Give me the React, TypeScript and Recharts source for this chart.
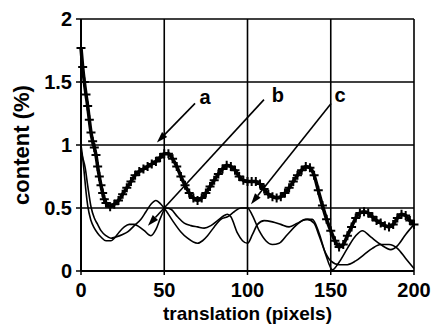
import {
  CartesianGrid,
  Label,
  Line,
  LineChart,
  ReferenceDot,
  ReferenceLine,
  XAxis,
  YAxis,
} from "recharts";

// curve a (plus markers)
const aX = [
  0, 1, 2, 3, 4, 5, 6, 7, 8, 9, 10, 11, 12, 13, 14, 15, 17.5, 20, 22.5, 25,
  27.5, 30, 32.5, 35, 37.5, 40, 42.5, 45, 47.5, 50, 52.5, 55, 57.5, 60, 62.5,
  65, 67.5, 70, 72.5, 75, 77.5, 80, 82.5, 85, 87.5, 90, 92.5, 95, 97.5, 100,
  102.5, 105, 107.5, 110, 112.5, 115, 117.5, 120, 122.5, 125, 127.5, 130,
  132.5, 135, 137.5, 140, 142.5, 145, 147.5, 150, 152.5, 155, 157.5, 160,
  162.5, 165, 167.5, 170, 172.5, 175, 177.5, 180, 182.5, 185, 187.5, 190,
  192.5, 195, 197.5, 200,
];
const aY = [
  1.77, 1.62, 1.5, 1.4, 1.31, 1.2, 1.1, 1.03, 0.98, 0.92, 0.83, 0.75, 0.68,
  0.62, 0.57, 0.54, 0.51, 0.53, 0.56, 0.61, 0.66, 0.71, 0.76, 0.79, 0.81, 0.83,
  0.85, 0.87, 0.9, 0.93, 0.93, 0.89, 0.83, 0.75, 0.68, 0.62, 0.58, 0.56, 0.58,
  0.62, 0.67, 0.72, 0.77, 0.81, 0.84, 0.83, 0.8, 0.75, 0.72, 0.71, 0.71, 0.71,
  0.69, 0.65, 0.61, 0.59, 0.58, 0.59, 0.62, 0.66, 0.71, 0.76, 0.8, 0.83, 0.82,
  0.76, 0.64, 0.52, 0.41, 0.32, 0.24, 0.19, 0.21, 0.28, 0.35, 0.42, 0.46,
  0.47, 0.46, 0.43, 0.4, 0.38, 0.36, 0.35, 0.37, 0.42, 0.45, 0.44, 0.4, 0.37,
];

// curve b
const bX = [
  0, 1, 2, 3, 4, 6, 8, 10, 12, 15, 18, 20, 23, 26, 29, 32, 35, 38, 42, 45, 48,
  51, 54, 58, 62, 66, 70, 74, 78, 82, 86, 88, 90, 94, 97, 100, 103, 106, 110,
  115, 120, 125, 130, 135, 139, 143, 147, 151, 155, 160, 165, 169, 174, 180,
  186, 190, 195, 200,
];
const bY = [
  1.0, 0.9, 0.77, 0.63, 0.52, 0.4, 0.34, 0.3, 0.27, 0.24, 0.24, 0.26, 0.31,
  0.35, 0.37, 0.37, 0.35, 0.32, 0.28, 0.33, 0.43, 0.5, 0.49, 0.43, 0.38, 0.36,
  0.35, 0.34, 0.36, 0.4, 0.44, 0.45, 0.43, 0.3, 0.24, 0.22, 0.29, 0.37, 0.4,
  0.39, 0.37, 0.35, 0.38, 0.41, 0.41, 0.3, 0.13, 0.01, 0.07, 0.18, 0.28, 0.32,
  0.27, 0.21, 0.17, 0.2, 0.29, 0.37,
];

// curve c
const cX = [
  0, 1, 2.5, 4, 6, 8, 10, 12, 15, 18, 21, 25, 28, 32, 36, 39, 42, 45, 48, 51,
  55, 60, 64, 70, 73, 76, 80, 84, 88, 92, 96, 100, 103, 107, 111, 115, 119,
  124, 129, 133, 136, 140, 143, 147, 150, 155, 160, 165, 170, 175, 180, 185,
  190, 195, 200,
];
const cY = [
  0.95, 0.9, 0.82, 0.68, 0.51, 0.42, 0.37, 0.32, 0.28, 0.26, 0.27, 0.29, 0.31,
  0.36, 0.41, 0.47, 0.53, 0.56, 0.53, 0.48, 0.4, 0.31, 0.26, 0.22, 0.24, 0.28,
  0.35, 0.41, 0.43, 0.47, 0.5, 0.5, 0.44, 0.32, 0.24, 0.21, 0.22, 0.29, 0.36,
  0.4, 0.41, 0.38, 0.28, 0.14, 0.08, 0.05, 0.05, 0.08, 0.13, 0.18, 0.21, 0.21,
  0.18, 0.1, 0.02,
];

const xTicks = [0, 50, 100, 150, 200];
const yTicks = [0, 0.5, 1, 1.5, 2];

// arrow annotations (data coordinates)
const arrowNames = ["a", "b", "c"];
const arrowFrom = [
  [68.5, 1.33],
  [109.9, 1.36],
  [150.2, 1.33],
];
const arrowTo = [
  [45.6, 1.02],
  [40.2, 0.36],
  [102.1, 0.53],
];
const arrowLabelAt = [
  [74.5, 1.38],
  [118.3, 1.4],
  [155.6, 1.4],
];

const FONT = "'Liberation Sans', Arial, sans-serif";

const toPoints = (xs: number[], ys: number[]) =>
  xs.map((x, i) => ({ x, y: ys[i] }));

function PlusDot(props: any) {
  const { cx, cy, index } = props;
  if (cx == null || cy == null) return <g key={`n${index}`} />;
  return (
    <path
      key={`p${index}`}
      d={`M${cx - 4.5},${cy}H${cx + 4.5}M${cx},${cy - 4.5}V${cy + 4.5}`}
      stroke="#000"
      strokeWidth={2}
      fill="none"
    />
  );
}

function ArrowShape(props: any) {
  const { x1, y1, x2, y2 } = props;
  const ang = Math.atan2(y2 - y1, x2 - x1);
  const len = 11;
  const half = 3.6;
  const bx = x2 - len * Math.cos(ang);
  const by = y2 - len * Math.sin(ang);
  const px = -Math.sin(ang) * half;
  const py = Math.cos(ang) * half;
  return (
    <g>
      <line x1={x1} y1={y1} x2={bx} y2={by} stroke="#000" strokeWidth={1.6} />
      <polygon
        points={`${x2},${y2} ${bx + px},${by + py} ${bx - px},${by - py}`}
        fill="#000"
      />
    </g>
  );
}

export default function App() {
  const tickStyle = {
    fill: "#000",
    fontSize: 20,
    fontWeight: 700,
    fontFamily: FONT,
  };

  return (
    <div style={{ position: "absolute", left: 0, top: 0, background: "#fff" }}>
      <LineChart
        width={432}
        height={328}
        margin={{ top: 19, right: 18, bottom: 0, left: 0 }}
      >
        <CartesianGrid stroke="#000" strokeWidth={1.6} />
        <XAxis
          type="number"
          dataKey="x"
          domain={[0, 200]}
          ticks={xTicks}
          height={57}
          tick={tickStyle}
          tickSize={4}
          tickMargin={8}
          axisLine={{ stroke: "#000", strokeWidth: 2 }}
          tickLine={{ stroke: "#000", strokeWidth: 1.5 }}
        >
          <Label
            content={({ viewBox }: any) => (
              <text
                x={viewBox.x + viewBox.width / 2}
                y={viewBox.y + 49}
                textAnchor="middle"
                fill="#000"
                fontSize={19}
                fontWeight={700}
                fontFamily={FONT}
              >
                translation (pixels)
              </text>
            )}
          />
        </XAxis>
        <YAxis
          type="number"
          dataKey="y"
          domain={[0, 2]}
          ticks={yTicks}
          width={81}
          tick={tickStyle}
          tickSize={5}
          tickMargin={4}
          tickFormatter={(v: number) => String(v)}
          axisLine={{ stroke: "#000", strokeWidth: 2 }}
          tickLine={{ stroke: "#000", strokeWidth: 1.5 }}
        >
          <Label
            content={({ viewBox }: any) => {
              const x = 21;
              const y = viewBox.y + viewBox.height / 2;
              return (
                <text
                  x={x}
                  y={y}
                  transform={`rotate(-90, ${x}, ${y})`}
                  textAnchor="middle"
                  dominantBaseline="central"
                  fill="#000"
                  fontSize={22}
                  fontWeight={700}
                  fontFamily={FONT}
                >
                  content (%)
                </text>
              );
            }}
          />
        </YAxis>
        <Line
          data={toPoints(bX, bY)}
          dataKey="y"
          type="monotone"
          stroke="#000"
          strokeWidth={1.6}
          dot={false}
          isAnimationActive={false}
        />
        <Line
          data={toPoints(cX, cY)}
          dataKey="y"
          type="monotone"
          stroke="#000"
          strokeWidth={1.6}
          dot={false}
          isAnimationActive={false}
        />
        <Line
          data={toPoints(aX, aY)}
          dataKey="y"
          type="monotone"
          stroke="#000"
          strokeWidth={3.5}
          dot={PlusDot}
          isAnimationActive={false}
        />
        {arrowNames.map((name, i) => (
          <ReferenceLine
            key={`arrow-${name}`}
            segment={[
              { x: arrowFrom[i][0], y: arrowFrom[i][1] },
              { x: arrowTo[i][0], y: arrowTo[i][1] },
            ]}
            shape={ArrowShape}
          />
        ))}
        {arrowNames.map((name, i) => (
          <ReferenceDot
            key={`label-${name}`}
            x={arrowLabelAt[i][0]}
            y={arrowLabelAt[i][1]}
            r={0}
            shape={(p: any) => (
              <text
                x={p.cx}
                y={p.cy}
                dy="0.35em"
                textAnchor="middle"
                fill="#000"
                fontSize={20}
                fontWeight={700}
                fontFamily={FONT}
              >
                {name}
              </text>
            )}
          />
        ))}
      </LineChart>
    </div>
  );
}
